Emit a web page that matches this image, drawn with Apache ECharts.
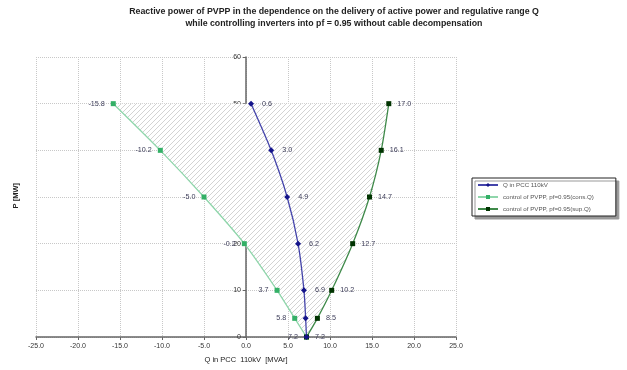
<!DOCTYPE html>
<html>
<head>
<meta charset="utf-8">
<script src="https://cdn.jsdelivr.net/npm/echarts@6/dist/echarts.min.js"></script>
<style>
    html, body {margin: 0; padding: 0; background: #fff;}
    #chart {width: 627px; height: 370px;}
</style>
</head>
<body>
<div id="chart"></div>
<script>
// active power levels [MW]
var pLevels = [0, 4, 10, 20, 30, 40, 50];
// reactive power [MVAr] for each P level
var qPcc  = [7.2, 7.1, 6.9, 6.2, 4.9, 3.0, 0.6];
var qCons = [7.2, 5.8, 3.7, -0.2, -5.0, -10.2, -15.8];
var qSup  = [7.2, 8.5, 10.2, 12.7, 14.7, 16.1, 17.0];
var seriesNames = ['Q in PCC 110kV', 'control of PVPP, pf=0.95(cons.Q)', 'control of PVPP, pf=0.95(sup.Q)'];

function pairs(q) {
    return q.map(function (v, i) { return [v, pLevels[i]]; });
}

// polygon of the regulative range: up the cons. curve, back down the sup. curve
var rangePoly = pairs(qCons).concat(pairs(qSup).reverse());

// hatch pattern
var hatch = document.createElement('canvas');
hatch.width = 5; hatch.height = 5;
var hc = hatch.getContext('2d');
hc.fillStyle = '#ffffff';
hc.fillRect(0, 0, 5, 5);
hc.strokeStyle = '#c8c8c8';
hc.lineWidth = 0.8;
hc.beginPath();
hc.moveTo(0, 5); hc.lineTo(5, 0);
hc.moveTo(-3, 3); hc.lineTo(3, -3);
hc.moveTo(2, 8); hc.lineTo(8, 2);
hc.stroke();

var labelStyle = {color: '#3c3c58', fontSize: 7.2, fontFamily: 'Liberation Sans'};

var chart = echarts.init(document.getElementById('chart'));
chart.setOption({
    animation: false,
    title: {
        text: 'Reactive power of PVPP in the dependence on the delivery of active power and regulative range Q\nwhile controlling inverters into pf = 0.95 without cable decompensation',
        left: 329,
        top: 1,
        textAlign: 'center',
        textStyle: {fontSize: 8.8, fontWeight: 'bold', fontFamily: 'Liberation Sans', color: '#222', lineHeight: 12}
    },
    grid: {left: 36, right: 171, top: 57, bottom: 33},
    legend: {
        orient: 'vertical',
        left: 472,
        top: 178,
        width: 153,
        padding: [4, 22, 4, 5],
        itemGap: 6,
        itemWidth: 20,
        itemHeight: 5,
        borderColor: '#222',
        borderWidth: 1,
        backgroundColor: '#fff',
        shadowColor: '#999',
        shadowOffsetX: 3,
        shadowOffsetY: 3,
        shadowBlur: 0,
        textStyle: {fontSize: 6.2, color: '#555', fontFamily: 'Liberation Sans'},
        data: seriesNames
    },
    graphic: [{
        type: 'text',
        left: 12,
        top: 183,
        rotation: Math.PI / 2,
        style: {text: 'P [MW]', fontSize: 7.5, fontWeight: 'bold', fontFamily: 'Liberation Sans', fill: '#222'}
    }],
    xAxis: {
        type: 'value',
        min: -25, max: 25, interval: 5,
        name: 'Q in PCC  110kV  [MVAr]',
        nameLocation: 'middle',
        nameGap: 19,
        nameTextStyle: {fontSize: 7.5, color: '#222', fontFamily: 'Liberation Sans'},
        axisLine: {onZero: false, lineStyle: {color: '#666', width: 1.5}},
        axisTick: {inside: false, length: 3, lineStyle: {color: '#666'}},
        axisLabel: {fontSize: 7, color: '#333', margin: 6, fontFamily: 'Liberation Sans', formatter: function (v) { return v.toFixed(1); }},
        splitLine: {show: true, lineStyle: {color: '#c8c8c8', type: 'dotted'}}
    },
    yAxis: {
        type: 'value',
        min: 0, max: 60, interval: 10,
        offset: -210,
        axisLine: {show: true, onZero: false, lineStyle: {color: '#666', width: 1.5}},
        axisTick: {show: true, length: 3, lineStyle: {color: '#666'}},
        axisLabel: {fontSize: 7, color: '#333', margin: 5, fontFamily: 'Liberation Sans'},
        splitLine: {show: true, lineStyle: {color: '#c8c8c8', type: 'dotted'}}
    },
    series: [
        {
            type: 'custom',
            silent: true,
            z: 1,
            data: rangePoly,
            renderItem: function (params, api) {
                if (params.dataIndex !== 0) return null;
                var pts = rangePoly.map(function (d) { return api.coord(d); });
                return {
                    type: 'polygon',
                    shape: {points: pts},
                    style: {fill: {image: hatch, repeat: 'repeat'}, stroke: null}
                };
            }
        },
        {
            name: seriesNames[1],
            type: 'line',
            z: 3,
            data: pairs(qCons),
            smooth: 0.25,
            symbol: 'rect',
            symbolSize: 5,
            itemStyle: {color: '#33b066'},
            lineStyle: {color: '#8fd6ab', width: 1.3},
            label: {show: true, position: 'left', distance: 6, formatter: function (p) { return p.value[0].toFixed(1); }, textStyle: labelStyle}
        },
        {
            name: seriesNames[2],
            type: 'line',
            z: 3,
            data: pairs(qSup),
            smooth: 0.25,
            symbol: 'rect',
            symbolSize: 5,
            itemStyle: {color: '#003300'},
            lineStyle: {color: '#3f8a4a', width: 1.3},
            label: {show: true, position: 'right', distance: 6, formatter: function (p) { return p.value[0].toFixed(1); }, textStyle: labelStyle}
        },
        {
            name: seriesNames[0],
            type: 'line',
            z: 4,
            data: pairs(qPcc),
            smooth: 0.25,
            symbol: 'diamond',
            symbolSize: 6,
            itemStyle: {color: '#14148a'},
            lineStyle: {color: '#4444aa', width: 1.3},
            label: {show: true, position: 'right', distance: 8, formatter: function (p) { return p.value[1] < 5 ? '' : p.value[0].toFixed(1); }, textStyle: labelStyle}
        }
    ]
});
</script>
</body>
</html>
